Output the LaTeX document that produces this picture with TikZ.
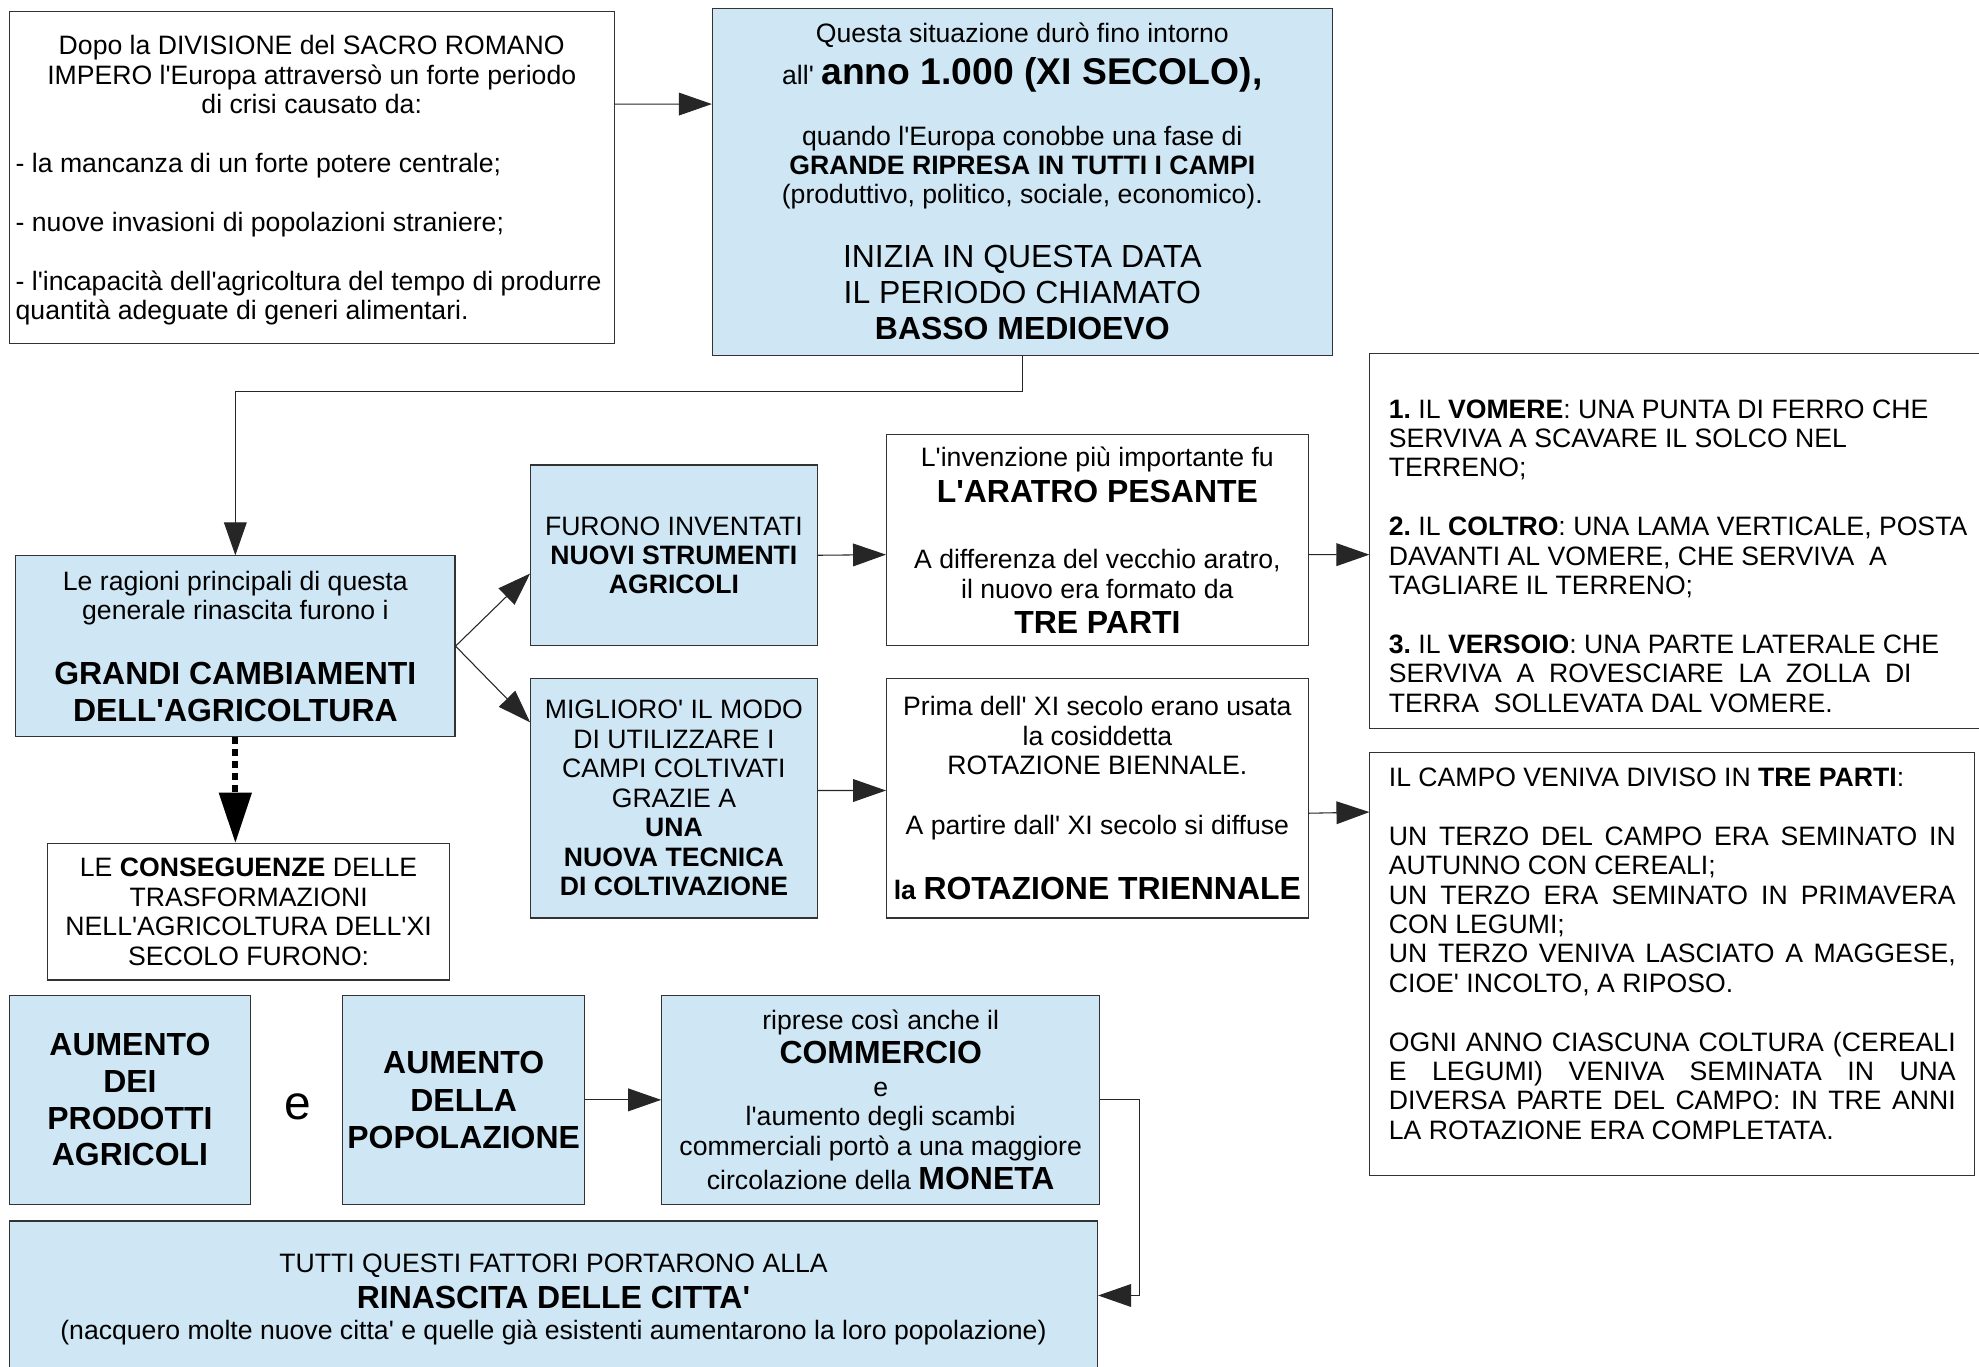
\documentclass[tikz,border=0pt]{standalone}
\usepackage{fontspec}
\setmainfont{Liberation Sans}[Ligatures=TeXOff]
\usetikzlibrary{arrows.meta,positioning}
\definecolor{boxblue}{RGB}{207,231,245}
\newcommand{\boxfont}{\fontsize{20}{22.1}\selectfont}
\newcommand{\bigfont}{\fontsize{24}{27.5}\selectfont}
\newcommand{\biggerfont}{\fontsize{28}{32}\selectfont}
\newcommand{\jline}[1]{\makebox[14.967cm][s]{\spaceskip=0.278em plus 1fil\relax #1}}
\lineskiplimit=-30pt
\frenchspacing

\begin{document}
\begin{tikzpicture}[x=0.03333cm,y=-0.03333cm,>={Triangle[length=0.87cm,width=0.6cm]},
    line/.style={black!85,line width=0.8pt},
    white box/.style={draw=black!80,line width=0.8pt,fill=white,inner sep=0pt,anchor=north west,align=center,font=\boxfont},
    blue box/.style={white box,fill=boxblue}]
    \path[use as bounding box,fill=white] (0,0) rectangle (1568,1083);

    % top row
    \node[white box,align=flush left,text width=15.633cm,inner xsep=0.1667cm,minimum height=8.767cm] (1) at (7,9) {\noindent
        \rule{0pt}{18pt}\makebox[15.633cm]{Dopo la DIVISIONE del SACRO ROMANO}\\
        \makebox[15.633cm]{IMPERO l'Europa attraversò un forte periodo}\\
        \makebox[15.633cm]{di crisi causato da:}\\[22.1pt]
        - la mancanza di un forte potere centrale;\\[22.1pt]
        - nuove invasioni di popolazioni straniere;\\[22.1pt]
        - l'incapacità dell'agricoltura del tempo di produrre\\
        quantità adeguate di generi alimentari.};
    \node[blue box,minimum width=16.367cm,minimum height=9.167cm] (2) at (564,6) {
        Questa situazione durò fino intorno\\[9.2pt]
        all' {\biggerfont\bfseries anno 1.000 (XI SECOLO),}\\[23.4pt]
        quando l'Europa conobbe una fase di\\
        \textbf{GRANDE RIPRESA IN TUTTI I CAMPI}\\
        (produttivo, politico, sociale, economico).\\[25.8pt]
        {\bigfont INIZIA IN QUESTA DATA}\\[4.5pt]
        {\bigfont IL PERIODO CHIAMATO}\\[5.4pt]
        {\bigfont\bfseries BASSO MEDIOEVO}};

    % agriculture
    \node[blue box,minimum width=11.6cm,minimum height=4.767cm] (3) at (12,440) {
        Le ragioni principali di questa\\
        generale rinascita furono i\\[26.7pt]
        {\bigfont\bfseries GRANDI CAMBIAMENTI}\\[5.4pt]
        {\bigfont\bfseries DELL'AGRICOLTURA}};
    \node[blue box,minimum width=7.567cm,minimum height=4.767cm] (4) at (420,368) {
        FURONO INVENTATI\\ \textbf{NUOVI STRUMENTI}\\ \textbf{AGRICOLI}};
    \node[blue box,minimum width=7.567cm,minimum height=6.333cm,below=0.833cm of 4] (5) {
        MIGLIORO' IL MODO\\ DI UTILIZZARE I\\ CAMPI COLTIVATI\\ GRAZIE A\\
        \textbf{UNA}\\ \textbf{NUOVA TECNICA}\\ \textbf{DI COLTIVAZIONE}};
    \node[white box,minimum width=11.133cm,minimum height=5.567cm] (6) at (702,344) {
        L'invenzione più importante fu\\[4.9pt]
        {\bigfont\bfseries L'ARATRO PESANTE}\\[27.7pt]
        A differenza del vecchio aratro,\\
        il nuovo era formato da\\[4pt]
        {\bigfont\bfseries TRE PARTI}};
    \node[white box,minimum width=11.133cm,minimum height=6.333cm,below=0.833cm of 6] (7) {
        Prima dell' XI secolo erano usata\\
        la cosiddetta\\
        ROTAZIONE BIENNALE.\\[22.5pt]
        A partire dall' XI secolo si diffuse\\[26.7pt]
        \textbf{la} {\bigfont\bfseries ROTAZIONE TRIENNALE}};
    \node[white box,align=flush left,text width=15.5cm,inner xsep=0.5cm,minimum height=9.9cm] (8) at (1085,280) {\noindent
        \rule{0pt}{36pt}\textbf{1.} IL \textbf{VOMERE}: UNA PUNTA DI FERRO CHE\\
        SERVIVA A SCAVARE IL SOLCO NEL\\
        TERRENO;\\[22.1pt]
        \textbf{2.} IL \textbf{COLTRO}: UNA LAMA VERTICALE, POSTA\\
        DAVANTI AL VOMERE, CHE SERVIVA\ \ A\\
        TAGLIARE IL TERRENO;\\[22.1pt]
        \textbf{3.} IL \textbf{VERSOIO}: UNA PARTE LATERALE CHE\\
        SERVIVA\ \ A\ \ ROVESCIARE\ \ LA\ \ ZOLLA\ \ DI\\
        TERRA\ \ SOLLEVATA DAL VOMERE.};
    \node[white box,align=flush left,text width=14.967cm,inner xsep=0.5cm,minimum height=11.167cm] (9) at (1085,596) {\noindent
        IL CAMPO VENIVA DIVISO IN \textbf{TRE PARTI}:\\[22.1pt]
        \jline{UN TERZO DEL CAMPO ERA SEMINATO IN}\\
        AUTUNNO CON CEREALI;\\
        \jline{UN TERZO ERA SEMINATO IN PRIMAVERA}\\
        CON LEGUMI;\\
        \jline{UN TERZO VENIVA LASCIATO A MAGGESE,}\\
        CIOE' INCOLTO, A RIPOSO.\\[22.1pt]
        \jline{OGNI ANNO CIASCUNA COLTURA (CEREALI}\\
        \jline{E LEGUMI) VENIVA SEMINATA IN UNA}\\
        \jline{DIVERSA PARTE DEL CAMPO: IN TRE ANNI}\\
        LA ROTAZIONE ERA COMPLETATA.\rule[-16pt]{0pt}{16pt}};

    % consequences
    \node[white box,minimum width=10.633cm,minimum height=3.6cm] (10) at (37,668) {
        LE \textbf{CONSEGUENZE} DELLE\\ TRASFORMAZIONI\\ NELL'AGRICOLTURA DELL'XI\\ SECOLO FURONO:};
    \node[blue box,font=\bigfont\bfseries,minimum width=6.367cm,minimum height=5.533cm] (11) at (7,788) {
        AUMENTO\\ DEI\\ PRODOTTI\\ AGRICOLI};
    \node[blue box,font=\bigfont\bfseries,minimum width=6.4cm,minimum height=5.533cm,right=2.4cm of 11] (12) {
        AUMENTO\\[1pt] DELLA\\ POPOLAZIONE};
    \node[blue box,minimum width=11.567cm,minimum height=5.533cm,right=2cm of 12] (13) {
        riprese così anche il\\[4pt]
        {\bigfont\bfseries COMMERCIO}\\[2.1pt]
        e\\
        l'aumento degli scambi\\
        commerciali portò a una maggiore\\[4pt]
        circolazione della {\bigfont\bfseries MONETA}};
    \node[blue box,minimum width=28.733cm,minimum height=4.133cm] (14) at (7,967) {
        TUTTI QUESTI FATTORI PORTARONO ALLA\\[4.9pt]
        {\bigfont\bfseries RINASCITA DELLE CITTA'}\\[1.1pt]
        (nacquero molte nuove citta' e quelle già esistenti aumentarono la loro popolazione)};
    \node[font=\fontsize{36}{40}\selectfont,inner sep=0pt] (15) at (236,877) {e};

    % connectors
    \path[line,->]
        ([yshift=1.95cm]1.east) edge ([yshift=2.05cm]2.west)
        (3.east) edge ([yshift=-0.483cm]4.west)
        (3.east) edge ([yshift=2cm]5.west)
        (4.east) edge ([yshift=-0.383cm]6.west)
        ([yshift=0.2cm]5.east) edge ([yshift=0.2cm]7.west)
        ([yshift=-0.383cm]6.east) edge ([yshift=-0.35cm]8.west)
        ([yshift=-0.4cm]7.east) edge ([yshift=4.017cm]9.west)
        (12.east) edge (13.west)
        ;
    \draw[line,->] (2.south) -- ++(0,28) -| (3.north);
    \draw[line,->] (13.east) -- ++(31,0) |- ([yshift=0.1cm]14.east);
    \draw[line width=4.7pt,dash pattern=on 5.5pt off 3.5pt,-{Triangle[length=1.33cm,width=0.83cm]}] (3.south) -- (3.south |- 10.north);
\end{tikzpicture}
\end{document}
